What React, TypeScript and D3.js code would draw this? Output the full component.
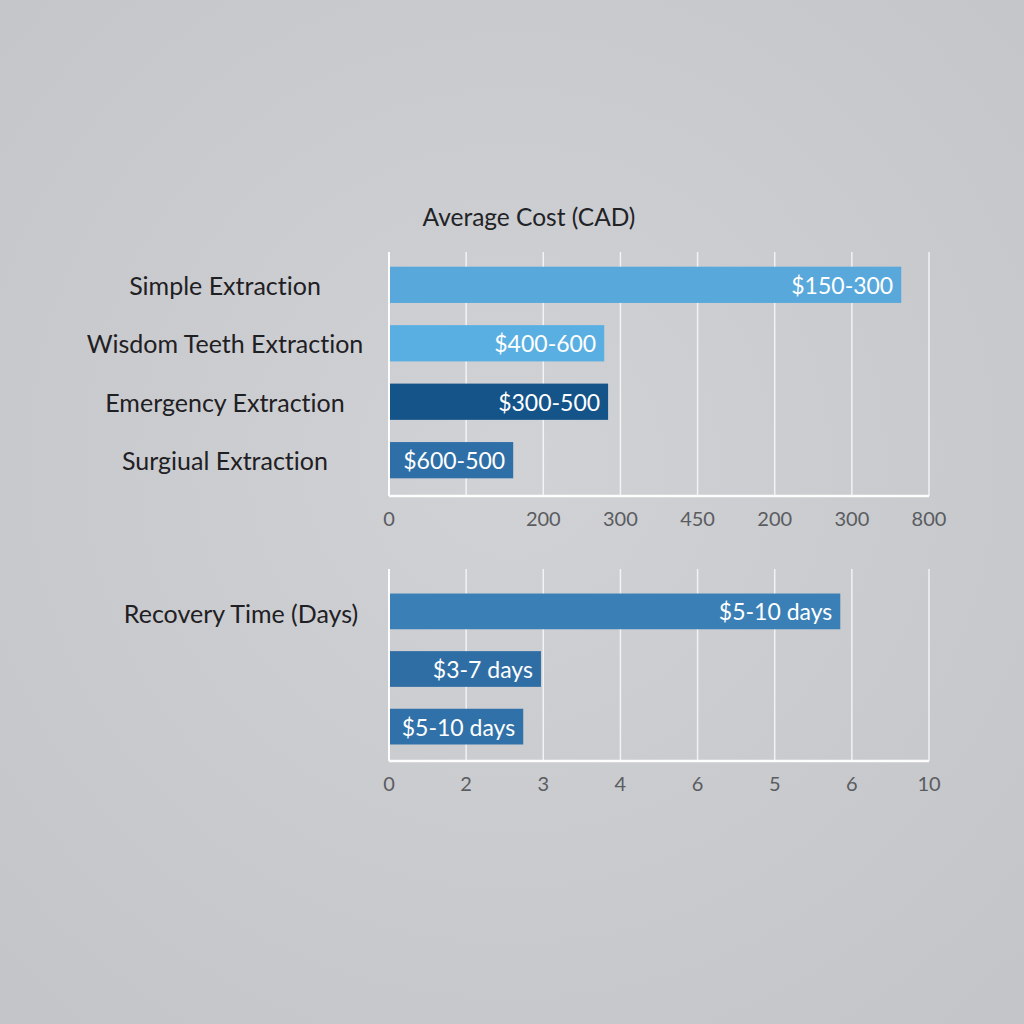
import React, { useEffect } from "react";
import * as d3 from "d3";

// Grid positions are in "grid units" 0..7 (the chart's axis labels are not monotonic)
const costCategories = ["Simple Extraction", "Wisdom Teeth Extraction", "Emergency Extraction", "Surgiual Extraction"];
const costValues = [6.64, 2.79, 2.84, 1.61];
const costLabels = ["$150-300", "$400-600", "$300-500", "$600-500"];
const costColors = ["#58a8dc", "#5aafe2", "#145489", "#2f6fa7"];
const costTickLabels = ["0", "", "200", "300", "450", "200", "300", "800"];

const recoveryTitle = "Recovery Time (Days)";
const recoveryValues = [5.85, 1.97, 1.74];
const recoveryLabels = ["$5-10 days", "$3-7 days", "$5-10 days"];
const recoveryColors = ["#3a80b6", "#2f6ea5", "#2f71a8"];
const recoveryTickLabels = ["0", "2", "3", "4", "6", "5", "6", "10"];

const FONT = "Lato, 'Open Sans', sans-serif";
const noLig = { fontVariantLigatures: "none" as const };

export default function App() {
  useEffect(() => {
    document.body.style.margin = "0";
  }, []);

  const x = d3.scaleLinear().domain([0, 7]).range([389, 929]);
  const gridIdx = d3.range(0, 8);

  const yTop = d3.scaleBand<number>().domain(d3.range(costValues.length)).range([255, 490]).paddingInner(0.38).paddingOuter(0.2);
  const yBot = d3.scaleBand<number>().domain(d3.range(recoveryValues.length)).range([582, 756]).paddingInner(0.38).paddingOuter(0.2);

  const labelCenterX = 225;

  const panel = (
    yScale: d3.ScaleBand<number>,
    values: number[],
    labels: string[],
    colors: string[],
    tickLabels: string[],
    gridTop: number,
    axisY: number,
    tickY: number
  ) => (
    <g>
      {gridIdx.map((i) => (
        <line key={"g" + i} x1={x(i)} x2={x(i)} y1={gridTop} y2={axisY} stroke="#ffffff" strokeOpacity={i === 0 ? 0.95 : 0.75} strokeWidth={i === 0 ? 2 : 1.5} />
      ))}
      <line x1={x(0)} x2={x(7)} y1={axisY} y2={axisY} stroke="#ffffff" strokeWidth={2.5} strokeOpacity={0.95} />
      {values.map((v, i) => (
        <g key={"b" + i}>
          <rect x={x(0) + 1} y={yScale(i)} width={x(v) - x(0) - 1} height={yScale.bandwidth()} fill={colors[i]} />
          <text x={x(v) - 8} y={(yScale(i) as number) + yScale.bandwidth() / 2} textAnchor="end" dominantBaseline="central" fill="#ffffff" fontSize={23} fontFamily={FONT}>
            {labels[i]}
          </text>
        </g>
      ))}
      {tickLabels.map((t, i) => (
        <text key={"t" + i} x={x(i)} y={tickY} textAnchor="middle" dominantBaseline="central" fill="#5a5c60" fontSize={20} fontFamily={FONT}>
          {t}
        </text>
      ))}
    </g>
  );

  return (
    <svg width={1024} height={1024} style={{ display: "block" }}>
      <defs>
        <radialGradient id="bg" cx="50%" cy="45%" r="70%">
          <stop offset="0%" stopColor="#d0d2d5" />
          <stop offset="100%" stopColor="#c3c5c9" />
        </radialGradient>
      </defs>
      <rect x={0} y={0} width={1024} height={1024} fill="url(#bg)" />
      <text x={529} y={216} textAnchor="middle" dominantBaseline="central" fill="#222326" fontSize={24.5} fontFamily={FONT}>
        Average Cost (CAD)
      </text>
      {costCategories.map((c, i) => (
        <text key={"c" + i} x={labelCenterX} y={(yTop(i) as number) + yTop.bandwidth() / 2} textAnchor="middle" dominantBaseline="central" fill="#1f2023" fontSize={25} fontFamily={FONT} style={noLig}>
          {c}
        </text>
      ))}
      {panel(yTop, costValues, costLabels, costColors, costTickLabels, 252, 496, 518)}
      <text x={241} y={613} textAnchor="middle" dominantBaseline="central" fill="#1f2023" fontSize={25} fontFamily={FONT}>
        {recoveryTitle}
      </text>
      {panel(yBot, recoveryValues, recoveryLabels, recoveryColors, recoveryTickLabels, 569, 761, 783)}
    </svg>
  );
}
